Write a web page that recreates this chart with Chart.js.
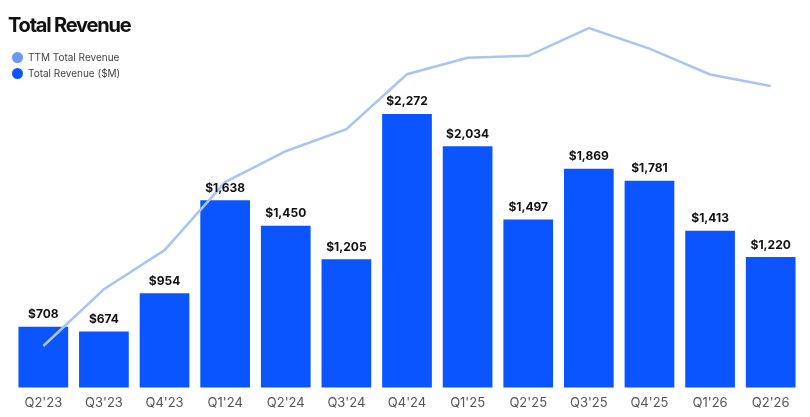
<!DOCTYPE html>
<html>
<head>
<meta charset="utf-8">
<script src="https://cdn.jsdelivr.net/npm/chart.js@4.4.1/dist/chart.umd.min.js"></script>
<style>
  html, body { margin: 0; padding: 0; background: #fff; }
  body { width: 810px; height: 417px; position: relative; overflow: hidden; font-family: Inter, "Noto Sans", sans-serif; }
  #wrap { position: absolute; left: 0; top: 0; width: 810px; height: 417px; }
  .title { position: absolute; left: 8px; top: 13px; font-size: 20px; font-weight: 700; color: #111; letter-spacing: -1.2px; }
  .legend { position: absolute; left: 12px; top: 49px; font-size: 10px; color: #444; }
  .legend div { display: flex; align-items: center; height: 16px; }
  .legend span.dot { width: 11px; height: 11px; border-radius: 50%; display: inline-block; margin-right: 5px; }
</style>
</head>
<body>
<div id="wrap"><canvas id="chart" width="810" height="417"></canvas></div>
<div class="title">Total Revenue</div>
<div class="legend">
  <div><span class="dot" style="background:#6b96f7"></span>TTM Total Revenue</div>
  <div><span class="dot" style="background:#0a55ff"></span>Total Revenue ($M)</div>
</div>
<script>
// quarters on the x axis
const quarters = ["Q2'23", "Q3'23", "Q4'23", "Q1'24", "Q2'24", "Q3'24", "Q4'24",
                  "Q1'25", "Q2'25", "Q3'25", "Q4'25", "Q1'26", "Q2'26"];
// quarterly revenue, $M
const revenue = [708, 674, 954, 1638, 1450, 1205, 2272, 2034, 1497, 1869, 1781, 1413, 1220];
// trailing twelve month revenue, $M
const ttmRevenue = [40, 1400, 2340, 3974, 4716, 5247, 6565, 6961, 7008, 7672, 7181, 6560, 6283];

const barLabels = {
    id: 'barLabels',
    afterDatasetsDraw(chart) {
        const ctx = chart.ctx;
        const meta = chart.getDatasetMeta(1);
        ctx.save();
        ctx.font = 'bold 12px Inter, "Noto Sans", sans-serif';
        ctx.fillStyle = '#111';
        ctx.textAlign = 'center';
        ctx.textBaseline = 'bottom';
        meta.data.forEach((bar, i) => {
            ctx.fillText('$' + revenue[i].toLocaleString('en-US'), bar.x, bar.y - 6);
        });
        ctx.restore();
    }
};

const chart = new Chart(document.getElementById('chart'), {
    type: 'bar',
    data: {
        labels: quarters,
        datasets: [
            {
                type: 'line',
                label: 'TTM Total Revenue',
                data: ttmRevenue,
                yAxisID: 'yTtm',
                borderColor: '#a9c5f0',
                borderWidth: 2.5,
                pointRadius: 0,
                tension: 0,
                fill: false,
                order: 0
            },
            {
                label: 'Total Revenue ($M)',
                data: revenue,
                yAxisID: 'y',
                backgroundColor: '#0a55ff',
                barPercentage: 0.82,
                categoryPercentage: 1,
                order: 1
            }
        ]
    },
    options: {
        responsive: false,
        animation: false,
        layout: { padding: { left: 13, right: 9, top: 10, bottom: -2 } },
        plugins: {
            legend: { display: false },
            tooltip: { enabled: false }
        },
        scales: {
            x: {
                grid: { display: false, drawTicks: false },
                border: { display: false },
                ticks: { color: '#555', font: { size: 13, family: 'Inter, "Noto Sans", sans-serif' }, padding: 8 }
            },
            y: {
                display: false,
                min: 263,
                max: 3035
            },
            yTtm: {
                display: false,
                min: -955,
                max: 8107
            }
        }
    },
    plugins: [barLabels]
});
</script>
</body>
</html>
